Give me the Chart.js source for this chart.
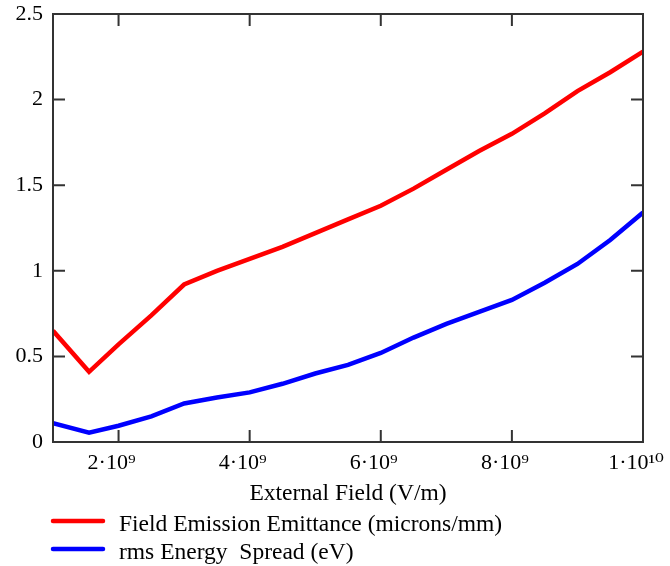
<!DOCTYPE html>
<html>
<head>
<meta charset="utf-8">
<script src="https://cdn.jsdelivr.net/npm/chart.js@4"></script>
<style>
  html, body { margin: 0; padding: 0; background: #fff; overflow: hidden; }
  canvas { display: block; }
</style>
</head>
<body>
<canvas id="field-chart" width="670" height="566"></canvas>
<script>
// external field (V/m)
const fieldValues = [1e9, 1.55e9, 2e9, 2.5e9, 3e9, 3.5e9, 4e9, 4.5e9, 5e9, 5.5e9, 6e9,
    6.5e9, 7e9, 7.5e9, 8e9, 8.5e9, 9e9, 9.5e9, 1e10];
const emittance = [0.65, 0.41, 0.57, 0.74, 0.92, 1.00, 1.07, 1.14, 1.22, 1.30, 1.38,
    1.48, 1.59, 1.70, 1.80, 1.92, 2.05, 2.16, 2.28];
const energySpread = [0.11, 0.055, 0.095, 0.15, 0.225, 0.26, 0.29, 0.34, 0.40, 0.45, 0.52,
    0.61, 0.69, 0.76, 0.83, 0.93, 1.04, 1.18, 1.34];
const xTickValues = [2e9, 4e9, 6e9, 8e9, 1e10];
const xTickLabels = ['2·10⁹', '4·10⁹', '6·10⁹', '8·10⁹', '1·10¹⁰'];
const yTickValues = [0, 0.5, 1, 1.5, 2, 2.5];
const yTickLabels = ['0', '0.5', '1', '1.5', '2', '2.5'];
const seriesLabels = ['Field Emission Emittance (microns/mm)', 'rms Energy  Spread (eV)'];
const seriesColors = ['#ff0000', '#0000ff'];

const FONT = "'Liberation Serif', 'DejaVu Serif', serif";

function toPoints(ys) {
    return fieldValues.map((x, i) => ({x: x, y: ys[i]}));
}

function noEdgePadding(scale) {
    scale.paddingLeft = 0;
    scale.paddingRight = 0;
    scale.paddingTop = 0;
    scale.paddingBottom = 0;
}

// box + inward ticks on all four sides
const frame = {
    id: 'frame',
    afterDatasetsDraw(chart) {
        const {ctx, chartArea: a, scales} = chart;
        const len = 12;
        ctx.save();
        ctx.strokeStyle = '#333';
        ctx.lineWidth = 2;
        ctx.strokeRect(a.left, a.top, a.right - a.left, a.bottom - a.top);
        ctx.beginPath();
        xTickValues.forEach(v => {
            const px = scales.x.getPixelForValue(v);
            ctx.moveTo(px, a.bottom); ctx.lineTo(px, a.bottom - len);
            ctx.moveTo(px, a.top); ctx.lineTo(px, a.top + len);
        });
        yTickValues.forEach(v => {
            const py = scales.y.getPixelForValue(v);
            ctx.moveTo(a.left, py); ctx.lineTo(a.left + len, py);
            ctx.moveTo(a.right, py); ctx.lineTo(a.right - len, py);
        });
        ctx.stroke();
        ctx.restore();
    }
};

// legend stacked under the axis title
const stackedLegend = {
    id: 'stackedLegend',
    afterDraw(chart) {
        const {ctx, chartArea: a} = chart;
        ctx.save();
        ctx.font = "23.5px " + FONT;
        ctx.textBaseline = 'alphabetic';
        chart.data.datasets.forEach((ds, i) => {
            const y = a.bottom + 79 + i * 28;
            ctx.strokeStyle = ds.borderColor;
            ctx.lineWidth = 4.5;
            ctx.lineCap = 'round';
            ctx.beginPath();
            ctx.moveTo(a.left, y);
            ctx.lineTo(a.left + 50, y);
            ctx.stroke();
            ctx.fillStyle = '#000';
            ctx.fillText(ds.label, a.left + 66, y + 10);
        });
        ctx.restore();
    }
};

new Chart(document.getElementById('field-chart'), {
    type: 'line',
    data: {
        datasets: [
            {
                label: seriesLabels[0],
                data: toPoints(emittance),
                borderColor: seriesColors[0],
                borderWidth: 4.5,
                pointRadius: 0,
                tension: 0,
            },
            {
                label: seriesLabels[1],
                data: toPoints(energySpread),
                borderColor: seriesColors[1],
                borderWidth: 4.5,
                pointRadius: 0,
                tension: 0,
            }
        ]
    },
    options: {
        responsive: false,
        animation: false,
        devicePixelRatio: 1,
        layout: {padding: {left: 0, top: 14, right: 27, bottom: 58}},
        plugins: {
            legend: {display: false},
            tooltip: {enabled: false},
        },
        scales: {
            x: {
                type: 'linear',
                min: 1e9,
                max: 1e10,
                grid: {display: false, drawTicks: false},
                border: {display: false},
                afterBuildTicks: (scale) => {
                    scale.ticks = xTickValues.map(v => ({value: v}));
                },
                afterFit: (scale) => { scale.height = 66; noEdgePadding(scale); },
                ticks: {
                    color: '#000',
                    font: {family: FONT, size: 22},
                    padding: 8,
                    labelOffset: -7,
                    maxRotation: 0,
                    callback: (v) => xTickLabels[xTickValues.indexOf(v)],
                },
                title: {
                    display: true,
                    text: 'External Field (V/m)',
                    color: '#000',
                    font: {family: FONT, size: 23.5},
                    padding: 0,
                },
            },
            y: {
                min: 0,
                max: 2.5,
                grid: {display: false, drawTicks: false},
                border: {display: false},
                afterBuildTicks: (scale) => {
                    scale.ticks = yTickValues.map(v => ({value: v}));
                },
                afterFit: (scale) => { scale.width = 53; noEdgePadding(scale); },
                ticks: {
                    color: '#000',
                    font: {family: FONT, size: 22},
                    padding: 10,
                    callback: (v) => yTickLabels[yTickValues.indexOf(v)],
                },
            },
        },
    },
    plugins: [frame, stackedLegend],
});
</script>
</body>
</html>
